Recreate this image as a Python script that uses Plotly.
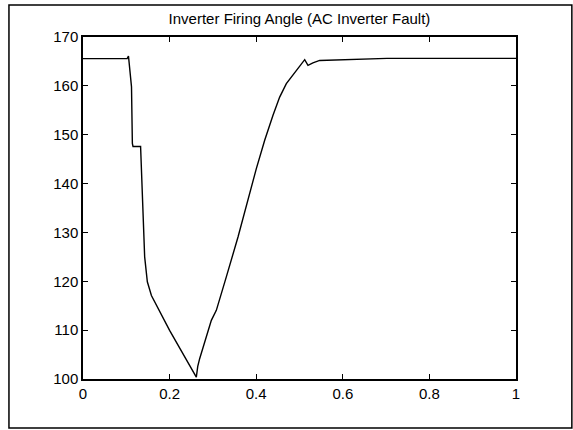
import plotly.graph_objects as go

# Inverter firing angle response (degrees) versus time (s)
time_s = [0.000, 0.102, 0.105, 0.108, 0.112, 0.114, 0.1155, 0.133, 0.135,
          0.1386, 0.1424, 0.1486, 0.158, 0.200, 0.231, 0.2617, 0.2650,
          0.2694, 0.2964, 0.3079, 0.331, 0.358, 0.4003, 0.4196,
          0.4388, 0.4542, 0.4696, 0.4927, 0.512, 0.5196, 0.531, 0.5466,
          0.5966, 0.7005, 0.702, 1.000]
angle_deg = [165.57, 165.57, 166.1, 163.5, 159.8, 148.2, 147.6, 147.6, 142.7,
             133.2, 125.0, 119.9, 117.1, 109.96, 105.2, 100.4, 102.6,
             104.16, 112.0, 114.05, 120.9, 129.06, 143.05, 148.85,
             153.97, 157.7, 160.45, 163.2, 165.36, 164.2, 164.7, 165.2,
             165.3, 165.5, 165.63, 165.63]

x_ticks = [0, 0.2, 0.4, 0.6, 0.8, 1]
x_tick_text = ["0", "0.2", "0.4", "0.6", "0.8", "1"]
y_ticks = [100, 110, 120, 130, 140, 150, 160, 170]

font_family = "Liberation Sans, Arial, sans-serif"

fig = go.Figure()
fig.add_trace(go.Scatter(
    x=time_s, y=angle_deg, mode="lines",
    line=dict(color="black", width=1.4),
    showlegend=False,
))

axis_style = dict(
    showgrid=False, zeroline=False,
    showline=True, linecolor="black", linewidth=1.5, mirror="ticks",
    ticks="inside", ticklen=5, tickwidth=1, tickcolor="black",
    tickfont=dict(family=font_family, size=15, color="black"),
)

fig.update_layout(
    width=573, height=430,
    margin=dict(l=83, r=57, t=37, b=51),
    paper_bgcolor="white", plot_bgcolor="white",
    title=dict(
        text="Inverter Firing Angle (AC Inverter Fault)",
        font=dict(family=font_family, size=15, color="black"),
        x=0.5, xref="paper", xanchor="center",
        y=1 - 19 / 430, yref="container", yanchor="middle",
    ),
    xaxis=dict(range=[0, 1], tickvals=x_ticks, ticktext=x_tick_text, **axis_style),
    yaxis=dict(range=[100, 170], tickvals=y_ticks, **axis_style),
)

# Frame around the whole figure
fig.add_shape(
    type="rect", xref="paper", yref="paper",
    x0=-0.171, x1=1.129, y0=-0.1433, y1=1.0936,
    line=dict(color="black", width=1.5), fillcolor="rgba(0,0,0,0)",
    layer="above",
)

fig.write_html("out.html")
